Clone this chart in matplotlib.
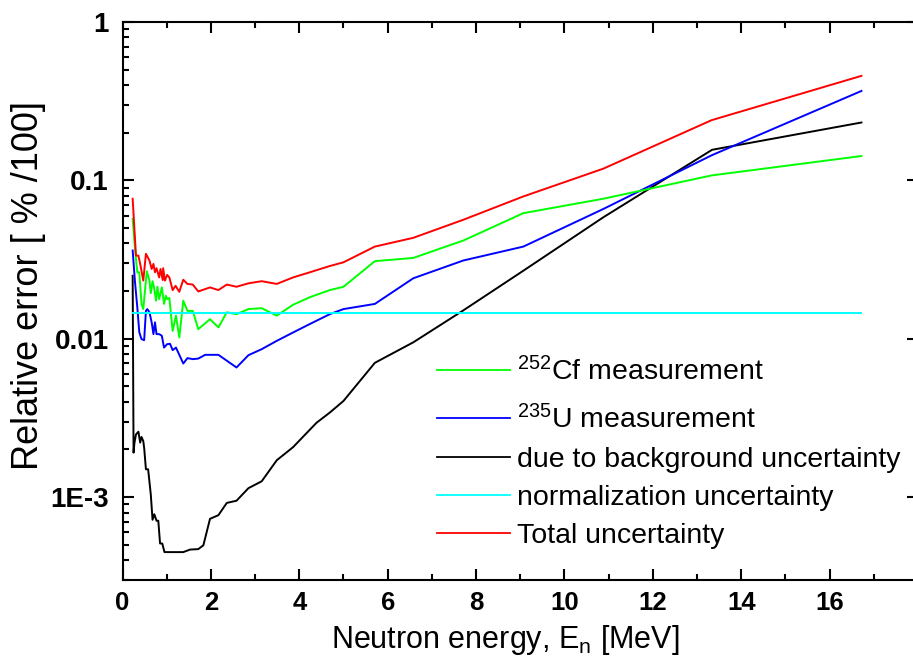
import matplotlib
matplotlib.use('Agg')
import matplotlib.pyplot as plt
from matplotlib import font_manager
from matplotlib.ticker import FixedLocator, FixedFormatter, MultipleLocator, LogLocator, NullFormatter


def has_font(name):
    try:
        font_manager.findfont(font_manager.FontProperties(family=name), fallback_to_default=False)
        return True
    except Exception:
        return False


BASE = 'Liberation Sans' if has_font('Liberation Sans') else 'DejaVu Sans'
NARROW = 'Liberation Sans Narrow' if has_font('Liberation Sans Narrow') else BASE

plt.rcParams['font.family'] = [BASE, 'DejaVu Sans']
plt.rcParams['mathtext.fontset'] = 'custom'
plt.rcParams['mathtext.rm'] = BASE
plt.rcParams['mathtext.it'] = BASE + ':italic'
plt.rcParams['mathtext.bf'] = BASE + ':bold'

# ---------------- data ----------------
cf_energy = [0.23, 0.28, 0.335, 0.38, 0.43, 0.47, 0.55, 0.61, 0.64, 0.68, 0.71, 0.76, 0.79, 0.83,
             0.89, 0.94, 0.98, 1.01, 1.06, 1.135, 1.21, 1.285, 1.375, 1.47, 1.59, 1.715, 1.98,
             2.17, 2.36, 2.58, 2.85, 3.15, 3.49, 3.86, 4.24, 4.69, 5.0, 5.71, 6.58, 7.71, 9.07,
             10.88, 13.33, 16.72]
cf_error = [0.0572, 0.0378, 0.0263, 0.0263, 0.0166, 0.0154, 0.0267, 0.0233, 0.0194, 0.0231, 0.0213,
            0.0174, 0.0213, 0.0178, 0.0211, 0.0166, 0.0187, 0.0178, 0.0181, 0.0112, 0.0140, 0.0102,
            0.0174, 0.0150, 0.0150, 0.0115, 0.0133, 0.0118, 0.0147, 0.0143, 0.0154, 0.0156, 0.0140,
            0.0164, 0.0183, 0.0203, 0.0213, 0.0309, 0.0324, 0.0417, 0.0621, 0.0766, 0.1075, 0.1425]

u_energy = [0.23, 0.28, 0.335, 0.38, 0.43, 0.49, 0.53, 0.56, 0.61, 0.66, 0.70, 0.735, 0.77, 0.83,
            0.89, 0.94, 1.01, 1.075, 1.135, 1.21, 1.285, 1.375, 1.47, 1.59, 1.715, 1.87, 2.17,
            2.58, 2.85, 3.15, 3.49, 3.86, 4.24, 4.69, 5.0, 5.71, 6.58, 7.71, 9.07, 10.88, 13.33, 16.72]
u_error = [0.0361, 0.0233, 0.0158, 0.0110, 0.00995, 0.0098, 0.0150, 0.0154, 0.0147, 0.0127, 0.0107,
           0.0127, 0.0107, 0.0107, 0.01045, 0.0088, 0.00925, 0.0093, 0.00848, 0.0088, 0.00792,
           0.00698, 0.00755, 0.00744, 0.0075, 0.00792, 0.00792, 0.00659, 0.00788, 0.0086, 0.0097,
           0.01096, 0.0124, 0.0143, 0.0154, 0.0166, 0.0241, 0.0312, 0.0382, 0.0660, 0.144, 0.367]

bg_energy = [0.23, 0.25, 0.27, 0.305, 0.36, 0.40, 0.43, 0.47, 0.49, 0.53, 0.58, 0.64, 0.68, 0.72,
             0.77, 0.81, 0.85, 0.90, 0.95, 1.375, 1.53, 1.715, 1.83, 1.98, 2.17, 2.36, 2.58, 2.85,
             3.15, 3.49, 3.86, 4.39, 4.69, 5.0, 5.71, 6.58, 7.71, 9.07, 10.88, 13.34, 16.72]
bg_error = [0.025, 0.00191, 0.0022, 0.00249, 0.00259, 0.00221, 0.0024, 0.00226, 0.00205, 0.0015,
            0.0015, 0.00104, 0.00072, 0.00078, 0.00071, 0.00071, 0.00051, 0.00051, 0.00045, 0.00045,
            0.000467, 0.00047, 0.000497, 0.00073, 0.00077, 0.00092, 0.00095, 0.00114, 0.00126,
            0.00171, 0.00207, 0.00295, 0.00342, 0.00405, 0.00705, 0.0095, 0.0151, 0.0269, 0.0585,
            0.156, 0.232]

norm_energy = [0.23, 16.72]
norm_error = [0.01445, 0.01445]

tot_energy = [0.23, 0.305, 0.36, 0.40, 0.47, 0.53, 0.61, 0.66, 0.70, 0.735, 0.77, 0.83, 0.86, 0.91,
              0.92, 0.96, 1.01, 1.06, 1.135, 1.20, 1.285, 1.375, 1.47, 1.59, 1.715, 1.98, 2.17,
              2.36, 2.58, 2.85, 3.15, 3.49, 3.86, 4.24, 4.69, 5.0, 5.71, 6.58, 7.71, 9.07, 10.88,
              13.33, 16.72]
tot_error = [0.0766, 0.0335, 0.0335, 0.0297, 0.0233, 0.0344, 0.0312, 0.0276, 0.0297, 0.0263, 0.0279,
             0.0244, 0.0276, 0.0235, 0.0279, 0.0233, 0.0253, 0.0244, 0.0203, 0.0216, 0.0198, 0.0236,
             0.0222, 0.0220, 0.0199, 0.0211, 0.0203, 0.0220, 0.0213, 0.0224, 0.0231, 0.0222, 0.0244,
             0.0263, 0.0288, 0.0304, 0.0382, 0.0434, 0.0564, 0.0792, 0.1186, 0.240, 0.457]

x_tick_values = [0, 2, 4, 6, 8, 10, 12, 14, 16]
x_tick_labels = ['0', '2', '4', '6', '8', '10', '12', '14', '16']
y_tick_values = [1e-3, 1e-2, 1e-1, 1]
y_tick_labels = ['1E-3', '0.01', '0.1', '1']

labels = [r'$^{252}$Cf measurement', r'$^{235}$U measurement', 'due to background uncertainty',
          'normalization uncertainty', 'Total uncertainty']

# ---------------- figure ----------------
W, H = 913, 661
AX_L, AX_R, AX_T, AX_B = 122.5, 918.0, 22.0, 580.0
fig = plt.figure(figsize=(W / 100, H / 100), dpi=100)
ax = fig.add_axes([AX_L / W, (H - AX_B) / H, (AX_R - AX_L) / W, (AX_B - AX_T) / H])

lw = 1.4
l_bg, = ax.plot(bg_energy, bg_error, color='black', lw=lw)
l_u, = ax.plot(u_energy, u_error, color='#0000ff', lw=lw)
l_cf, = ax.plot(cf_energy, cf_error, color='#00ff00', lw=lw)
l_tot, = ax.plot(tot_energy, tot_error, color='#ff0000', lw=lw)
l_norm, = ax.plot(norm_energy, norm_error, color='#00ffff', lw=lw)

ax.set_yscale('log')
ax.set_xlim(0, 18)
ax.set_ylim(3e-4, 1)

ax.xaxis.set_major_locator(FixedLocator(x_tick_values))
ax.xaxis.set_major_formatter(FixedFormatter(x_tick_labels))
ax.xaxis.set_minor_locator(MultipleLocator(1))
ax.yaxis.set_major_locator(FixedLocator(y_tick_values))
ax.yaxis.set_major_formatter(FixedFormatter(y_tick_labels))
ax.yaxis.set_minor_locator(LogLocator(base=10, subs=[2, 3, 4, 5, 6, 7, 8, 9]))
ax.yaxis.set_minor_formatter(NullFormatter())

for s in ax.spines.values():
    s.set_linewidth(1.5)

ax.tick_params(which='major', direction='in', length=8, width=1.5,
               top=True, right=True, bottom=True, left=True)
ax.tick_params(which='minor', direction='in', length=4.5, width=1.5,
               top=True, bottom=True, left=True, right=False)
ax.tick_params(axis='y', which='major', pad=10)
ax.tick_params(axis='x', which='major', pad=8)

xfs = 23 if NARROW != BASE else 18.5
for t in ax.get_xticklabels():
    t.set_fontfamily(NARROW)
    t.set_fontweight('bold')
    t.set_fontsize(xfs)
for t in ax.get_yticklabels():
    t.set_fontweight('bold')
    t.set_fontsize(20)

ax.set_xlabel(r'Neutron energy, E$_{\mathrm{n}}$ [MeV]', fontsize=22)
ax.xaxis.set_label_coords(0.481, -0.077)
ax.set_ylabel('Relative error [ % /100]', fontsize=26)
ax.yaxis.set_label_coords(-0.096, 0.527)

# ---------------- legend (drawn as key lines + labels) ----------------
def fx(px):
    return (px - AX_L) / (AX_R - AX_L)


def fy(py):
    return (AX_B - py) / (AX_B - AX_T)


handles = [l_cf, l_u, l_bg, l_norm, l_tot]
row_py = [370, 418, 457, 495, 533]
for h, lab, py in zip(handles, labels, row_py):
    ax.plot([fx(437), fx(510)], [fy(py), fy(py)], transform=ax.transAxes,
            color=h.get_color(), lw=1.3, clip_on=False)
    ax.text(fx(517), fy(py + 10), lab, transform=ax.transAxes, fontsize=20.5,
            ha='left', va='baseline')

fig.savefig('out.png', dpi=100)
